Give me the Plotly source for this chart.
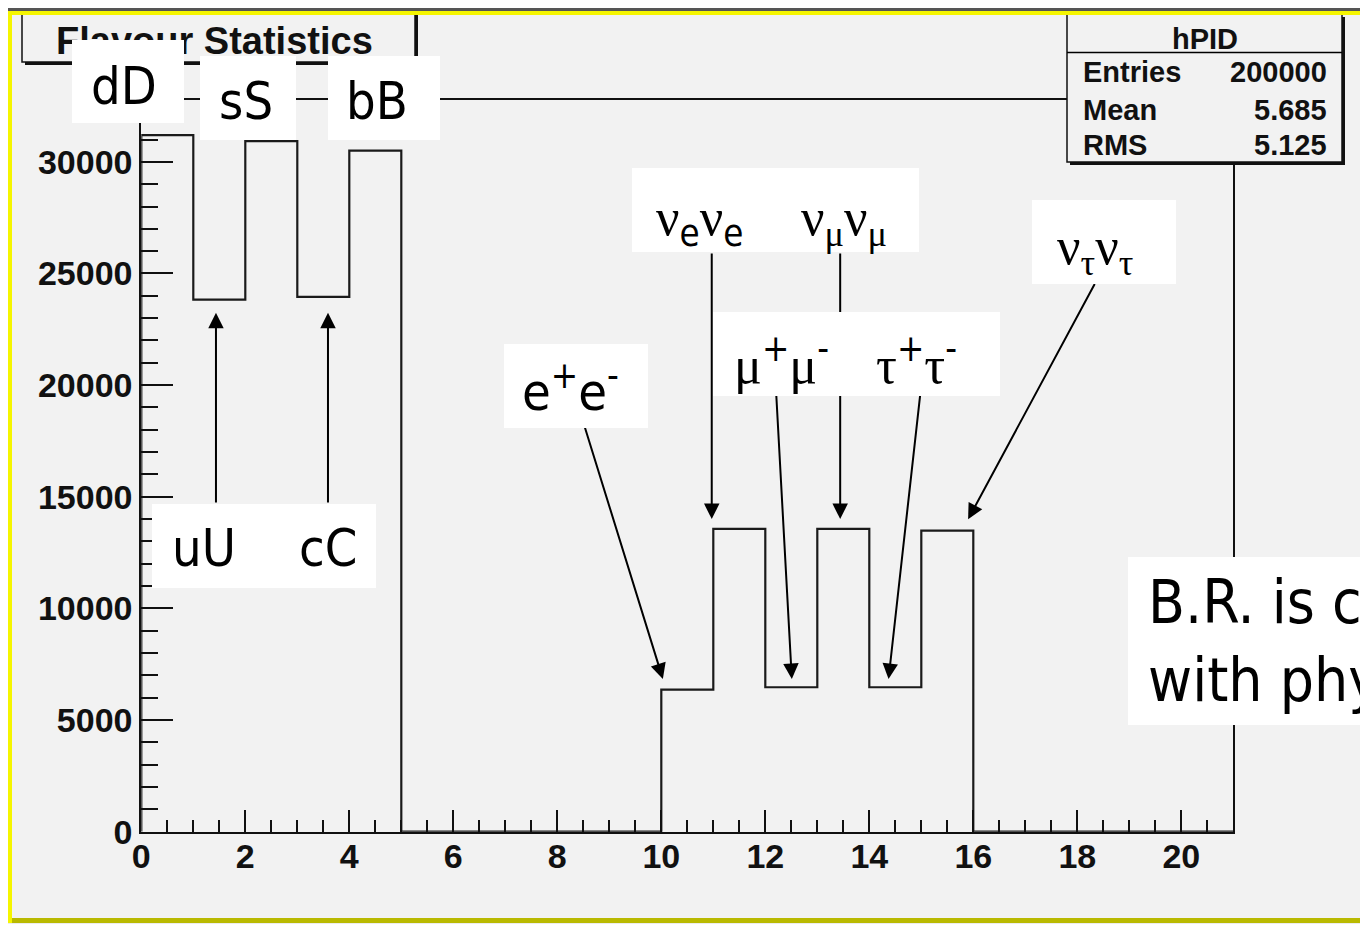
import plotly.graph_objects as go

# The page keeps the browser's default 8px body margin, so the figure is
# sized to fill the rest of the 1368x932 window exactly.
PAGE_W, PAGE_H = 1368, 932
OX, OY = 8, 8
FW, FH = PAGE_W - OX, PAGE_H - 2 * OY

# ---------------- data ----------------
bin_edges = list(range(0, 22))
bin_counts = [31200, 23830, 30930, 23950, 30500, 0, 0, 0, 0, 0,
              6360, 13560, 6470, 13560, 6470, 13480, 0, 0, 0, 0, 0]

x_tick_vals = [0, 2, 4, 6, 8, 10, 12, 14, 16, 18, 20]
x_tick_text = ["0", "2", "4", "6", "8", "10", "12", "14", "16", "18", "20"]
y_tick_vals = [0, 5000, 10000, 15000, 20000, 25000, 30000]
y_tick_text = ["0", "5000", "10000", "15000", "20000", "25000", "30000"]

title_text = "Flavour Statistics"
stats_name = "hPID"
stats_labels = ["Entries", "Mean", "RMS"]
stats_values = ["200000", "5.685", "5.125"]

# arrows (data units): tail -> head
arrow_tail_x = [1.436, 3.59, 8.51, 10.97, 12.21, 13.44, 14.98, 18.35]
arrow_tail_y = [14680, 14680, 18260, 25960, 19600, 25960, 19600, 24600]
arrow_head_x = [1.436, 3.59, 10.03, 10.97, 12.51, 13.44, 14.37, 15.90]
arrow_head_y = [23240, 23240, 6840, 14000, 6840, 14000, 6840, 13990]

SERIF = "Liberation Serif"
def g(ch):
    return f"<span style='font-family:{SERIF}'>{ch}</span>"

label_texts = ["dD", "sS", "bB", "uU", "cC", "e<sup>+</sup>e<sup>-</sup>",
               g("ν") + "<sub>e</sub>" + g("ν") + "<sub>e</sub>",
               g("ν") + "<sub>" + g("μ") + "</sub>" + g("ν") + "<sub>" + g("μ") + "</sub>",
               g("μ") + "<sup>+</sup>" + g("μ") + "<sup>-</sup>",
               g("τ") + "<sup>+</sup>" + g("τ") + "<sup>-</sup>",
               g("ν") + "<sub>" + g("τ") + "</sub>" + g("ν") + "<sub>" + g("τ") + "</sub>"]
note_text = "B.R. is consistent<br>with physics"

# ---------------- helpers (page pixel -> paper) ----------------
def px(x):
    return (x - OX) / FW

def py(y):
    return 1 - (y - OY) / FH

X0, X1 = 141.3, 1233.3
Y0, Y1 = 831.7, 100.0
YMAX = 32770

shapes = []
def rect(x0, y0, x1, y1, fill, layer="below", line=None):
    shapes.append(dict(type="rect", xref="paper", yref="paper",
                       x0=px(x0), x1=px(x1), y0=py(y1), y1=py(y0),
                       fillcolor=fill, layer=layer,
                       line=dict(width=0) if line is None else line))

def hline(x0, x1, y, color="black", width=1.5, layer="above"):
    shapes.append(dict(type="line", xref="paper", yref="paper",
                       x0=px(x0), x1=px(x1), y0=py(y), y1=py(y),
                       line=dict(color=color, width=width), layer=layer))

# canvas
rect(8, 11, PAGE_W, 923, "#F2F2F2")

# title pave
rect(25, 14, 418, 65, "#111111", "above")
rect(22, 12, 415, 62, "#F2F2F2", "above", dict(color="#111111", width=1.5))
# stats pave
rect(1070, 17, 1345, 165, "#111111", "above")
rect(1067, 12, 1342, 162, "#F2F2F2", "above", dict(color="#111111", width=1.5))
hline(1067, 1342, 52.5)

# canvas borders (drawn last)
rect(0, 7, PAGE_W, 11, "#555555", "above")
rect(1362, 11, PAGE_W, 923, "#B9B900", "above")
rect(8, 11, 1366, 15, "#F5F500", "above")
rect(8, 11, 12, 923, "#F5F500", "above")
rect(12, 918, PAGE_W, 923, "#B9B900", "above")
rect(0, 923, PAGE_W, 927, "#ECECEC", "above")
rect(0, 927, PAGE_W, PAGE_H, "#CFCFCF", "above")

# ---------------- traces ----------------
step_x = [bin_edges[0]]
step_y = [0]
for i, c in enumerate(bin_counts):
    step_x += [bin_edges[i], bin_edges[i + 1]]
    step_y += [c, c]
step_x.append(bin_edges[-1])
step_y.append(0)

fig = go.Figure()
fig.add_trace(go.Scatter(x=step_x, y=step_y, mode="lines",
                         line=dict(color="#1a1a1a", width=2.2),
                         hoverinfo="skip", showlegend=False))

# ---------------- annotations ----------------
ann = []
LABEL_FONT = "DejaVu Sans Condensed, DejaVu Sans"

def text(x, y, t, size, family, xanchor="center", bold=False, color="black", align="center"):
    ann.append(dict(xref="paper", yref="paper", x=px(x), y=py(y), text=t,
                    showarrow=False, xanchor=xanchor, yanchor="middle", align=align,
                    font=dict(size=size, family=family, color=color,
                              weight="bold" if bold else "normal"),
                    borderpad=0, borderwidth=0))

def box(x0, y0, x1, y1):
    ann.append(dict(xref="paper", yref="paper", x=px(x0), y=py(y0), text=" ",
                    showarrow=False, xanchor="left", yanchor="top",
                    width=x1 - x0, height=y1 - y0, bgcolor="white",
                    borderpad=0, borderwidth=0))

# arrows
for tx, ty, hx, hy in zip(arrow_tail_x, arrow_tail_y, arrow_head_x, arrow_head_y):
    ann.append(dict(xref="x", yref="y", axref="x", ayref="y",
                    x=hx, y=hy, ax=tx, ay=ty, text="", showarrow=True,
                    arrowhead=2, arrowsize=1.55, arrowwidth=2,
                    arrowcolor="black", standoff=0, startstandoff=0))

# title text (under the label boxes)
text(215, 41, title_text, 38, "Liberation Sans", bold=True, color="#111111")

# stats text
text(1205, 39, stats_name, 29, "Liberation Sans", bold=True, color="#111111")
for lab, val, yy in zip(stats_labels, stats_values, [72, 110, 145]):
    text(1083, yy, lab, 29, "Liberation Sans", xanchor="left", bold=True, color="#111111")
    text(1327, yy, val, 29, "Liberation Sans", xanchor="right", bold=True, color="#111111")

# label boxes
box(72, 40, 184, 123)      # dD
box(200, 56, 296, 140)     # sS
box(328, 56, 440, 140)     # bB
box(152, 504, 376, 588)    # uU cC
box(504, 344, 648, 428)    # e+e-
box(632, 168, 919, 252)    # nu_e nu_mu
box(713, 312, 1000, 396)   # mu tau
box(1032, 200, 1176, 284)  # nu_tau
box(1128, 557, 1560, 725)  # B.R.

label_pos = [(124, 86), (246, 101), (377, 101), (204, 548), (328, 548), (570, 388),
             (699, 222), (844, 222), (781, 360), (917, 360), (1095, 250)]
for (lx, ly), t in zip(label_pos, label_texts):
    text(lx, ly, t, 52, LABEL_FONT)

text(1148, 641, note_text, 60, LABEL_FONT, xanchor="left", align="left")

# ---------------- layout ----------------
tickfont = dict(family="Liberation Sans", size=34, color="#111111", weight="bold")
fig.update_layout(
    width=FW, height=FH, autosize=False, margin=dict(l=0, r=0, t=0, b=0, pad=0),
    paper_bgcolor="white", plot_bgcolor="rgba(0,0,0,0)",
    showlegend=False, shapes=shapes, annotations=ann,
    xaxis=dict(domain=[px(X0), px(X1)], range=[0, 21], automargin=False,
               showline=True, linecolor="#111111", linewidth=2, mirror=True,
               showgrid=False, zeroline=False,
               tickmode="array", tickvals=x_tick_vals, ticktext=x_tick_text,
               ticks="inside", ticklen=22, tickwidth=2, tickcolor="#111111",
               ticklabelstandoff=-7,
               minor=dict(tickmode="linear", tick0=0, dtick=0.5, ticks="inside",
                          ticklen=12, tickwidth=2, tickcolor="#111111"),
               tickfont=tickfont),
    yaxis=dict(domain=[py(Y0), py(Y1)], range=[0, YMAX], automargin=False,
               showline=True, linecolor="#111111", linewidth=2, mirror=True,
               showgrid=False, zeroline=False,
               tickmode="array", tickvals=y_tick_vals, ticktext=y_tick_text,
               ticks="inside", ticklen=32, tickwidth=2, tickcolor="#111111",
               minor=dict(tickmode="linear", tick0=0, dtick=1000, ticks="inside",
                          ticklen=17, tickwidth=2, tickcolor="#111111"),
               tickfont=tickfont),
)

fig.write_html("out.html", config={"responsive": False, "displayModeBar": False})
